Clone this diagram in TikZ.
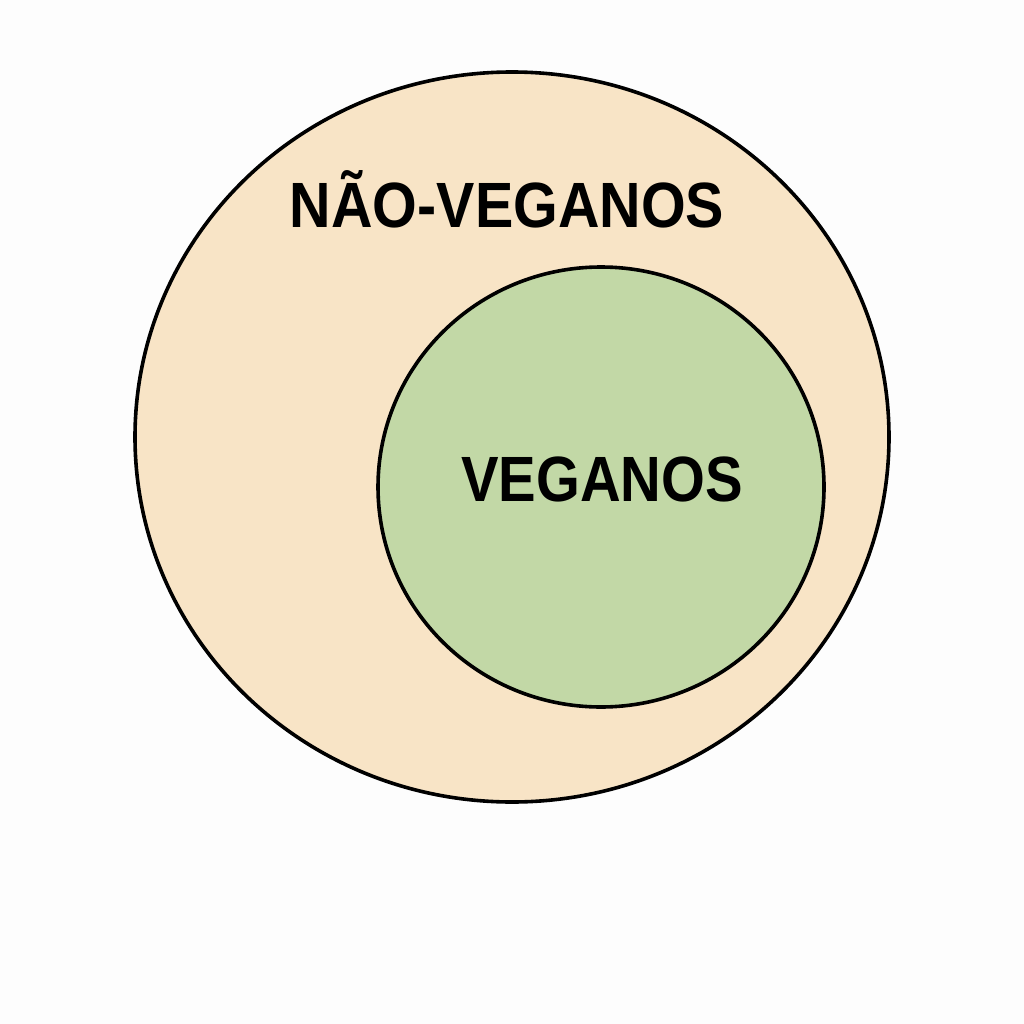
\documentclass[tikz,border=0pt]{standalone}
\usepackage{fontspec}
\setmainfont{Liberation Sans}
\definecolor{bgc}{HTML}{FDFDFD}
\definecolor{outerfill}{HTML}{F8E4C6}
\definecolor{innerfill}{HTML}{C2D8A6}
\tikzset{
  setcircle/.style={draw=black, line width=3.6pt},
  biglabel/.style={font=\fontsize{64}{70}\selectfont\bfseries, inner sep=0pt, anchor=base, xscale=0.88}
}
\begin{document}
\begin{tikzpicture}[x=1pt,y=-1pt]
\fill[bgc] (0,0) rectangle (1024,1024);
\useasboundingbox (0,0) rectangle (1024,1024);
\draw[setcircle, fill=outerfill] (512,437) ellipse [x radius=377, y radius=365];
\node[biglabel, xscale=1.02] (nv) at (507,228) {NÃO-VEGANOS};
\draw[setcircle, fill=innerfill] (601,487) ellipse [x radius=223, y radius=220];
\node[biglabel] (v) at (602,501) {VEGANOS};
\end{tikzpicture}
\end{document}
